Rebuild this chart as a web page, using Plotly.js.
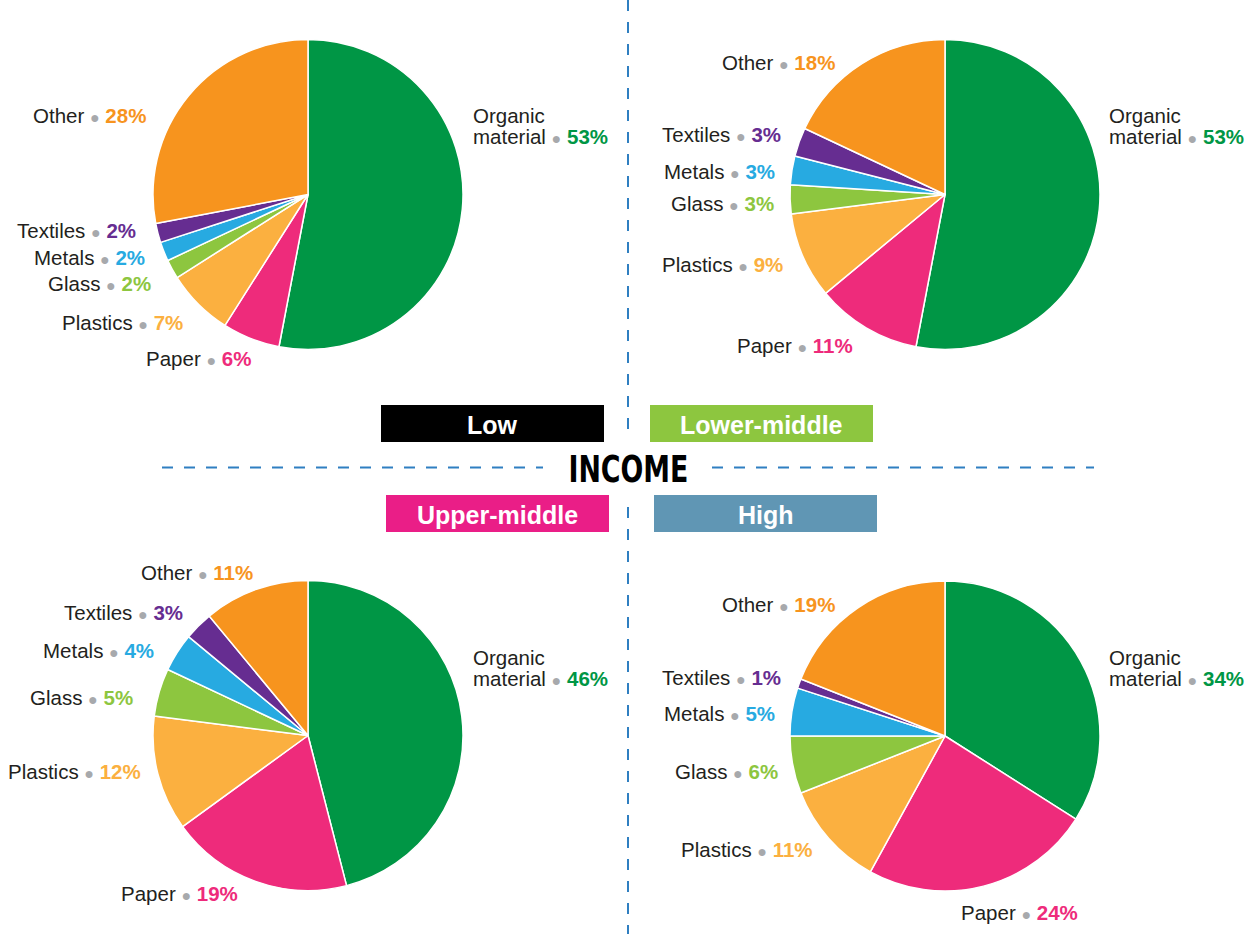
<!DOCTYPE html>
<html>
<head>
<meta charset="utf-8">
<script src="https://cdn.plot.ly/plotly-3.0.1.min.js"></script>
<style>html,body{margin:0;padding:0;background:#fff;}#chart{width:1250px;height:934px;}</style>
</head>
<body>
<div id="chart"></div>
<script>
// ---- data ----
const categories = ['Organic material', 'Paper', 'Plastics', 'Glass', 'Metals', 'Textiles', 'Other'];
const incomeGroups = ['Low', 'Lower-middle', 'Upper-middle', 'High'];
const lowValues = [53, 6, 7, 2, 2, 2, 28];
const lowerMiddleValues = [53, 11, 9, 3, 3, 3, 18];
const upperMiddleValues = [46, 19, 12, 5, 4, 3, 11];
const highValues = [34, 24, 11, 6, 5, 1, 19];
const centerTitle = 'INCOME';

// ---- styles / layout ----
const W = 1250, H = 934;
const sliceColors = ['#009645', '#EE2B7B', '#FBB040', '#8DC63F', '#27AAE1', '#662D91', '#F7941E'];
const groupColors = ['#000000', '#8DC63F', '#EA1E87', '#6096B4'];
const seriesList = [lowValues, lowerMiddleValues, upperMiddleValues, highValues];
const pieCenters = [[308, 194.5], [945, 194.5], [308, 735.5], [945, 736]];
const pieRadius = 155;
const boxRects = [[381, 405, 604, 442], [650, 405, 873, 442], [386, 495, 609, 532], [654, 495, 877, 532]];
// label anchors (px): organic -> left anchor of 2nd line; others -> right edge
const labelPos = [
  [[471, 136], [253, 358], [185, 323], [153, 283], [147, 257], [138, 231], [148, 115]],
  [[1107, 136], [855, 345], [785, 265], [776, 204], [777, 171], [783, 135], [837, 62]],
  [[471, 678], [240, 893], [143, 771], [135, 697], [156, 650], [185, 612], [255, 572]],
  [[1107, 678], [1080, 912], [815, 849], [780, 771], [777, 713], [783, 677], [837, 604]]
];

const px = x => x / W;
const py = y => 1 - y / H;
const FONT = '"Liberation Sans", Arimo, Arial, sans-serif';
const TEXTC = '#231F20';
const DOT = '<span style="color:#A7A9AC;font-size:16px">●</span>';
const LABEL_SIZE = 20.5;

const traces = seriesList.map((vals, i) => {
  const [cx, cy] = pieCenters[i];
  return {
    type: 'pie',
    labels: categories,
    values: vals,
    sort: false,
    direction: 'clockwise',
    rotation: 0,
    textinfo: 'none',
    hoverinfo: 'skip',
    showlegend: false,
    marker: {colors: sliceColors, line: {color: '#ffffff', width: 1.5}},
    domain: {x: [px(cx - pieRadius), px(cx + pieRadius)], y: [py(cy + pieRadius), py(cy - pieRadius)]}
  };
});

const annotations = [];
const shapes = [];

seriesList.forEach((vals, i) => {
  categories.forEach((cat, j) => {
    const [x, y] = labelPos[i][j];
    const pct = '<b style="color:' + sliceColors[j] + '">' + vals[j] + '%</b>';
    const font = {family: FONT, size: LABEL_SIZE, color: TEXTC};
    if (j === 0) {
      const words = cat.split(' ');
      annotations.push({xref: 'paper', yref: 'paper', x: px(x), y: py(y - 21), xanchor: 'left', yanchor: 'middle',
        text: words[0], showarrow: false, font: font});
      annotations.push({xref: 'paper', yref: 'paper', x: px(x), y: py(y), xanchor: 'left', yanchor: 'middle',
        text: words.slice(1).join(' ') + ' ' + DOT + ' ' + pct, showarrow: false, font: font});
    } else {
      annotations.push({xref: 'paper', yref: 'paper', x: px(x), y: py(y), xanchor: 'right', yanchor: 'middle',
        text: cat + ' ' + DOT + ' ' + pct, showarrow: false, font: font});
    }
  });
});

incomeGroups.forEach((g, i) => {
  const [x0, y0, x1, y1] = boxRects[i];
  shapes.push({type: 'rect', xref: 'paper', yref: 'paper', x0: px(x0), x1: px(x1), y0: py(y1), y1: py(y0),
    fillcolor: groupColors[i], line: {width: 0}, layer: 'above'});
  annotations.push({xref: 'paper', yref: 'paper', x: px((x0 + x1) / 2), y: py((y0 + y1) / 2 + 1), xanchor: 'center', yanchor: 'middle',
    text: g, showarrow: false, font: {family: FONT, size: 25, weight: 'bold', color: '#ffffff'}});
});

annotations.push({xref: 'paper', yref: 'paper', x: px(628), y: py(469), xanchor: 'center', yanchor: 'middle',
  text: centerTitle, showarrow: false,
  font: {family: '"Liberation Sans Narrow", "DejaVu Sans Condensed", "Liberation Sans", sans-serif', size: 38, weight: 'bold', color: '#000000'}});

const dashLine = {color: '#2F7FC1', width: 2, dash: '11px,11px'};
[[0, 430], [507, 934]].forEach(([a, b]) => shapes.push({type: 'line', xref: 'paper', yref: 'paper',
  x0: px(628), x1: px(628), y0: py(a), y1: py(b), line: dashLine}));
[[162, 543], [712, 1094]].forEach(([a, b]) => shapes.push({type: 'line', xref: 'paper', yref: 'paper',
  x0: px(a), x1: px(b), y0: py(467.5), y1: py(467.5), line: dashLine}));

const layout = {
  width: W, height: H,
  margin: {l: 0, r: 0, t: 0, b: 0},
  paper_bgcolor: '#ffffff', plot_bgcolor: '#ffffff',
  showlegend: false,
  annotations: annotations,
  shapes: shapes
};

Plotly.newPlot('chart', traces, layout, {displayModeBar: false, staticPlot: true}).then(gd => {
  // condense the central title to the reference's narrow width
  gd.querySelectorAll('text.annotation-text').forEach(t => {
    if (t.textContent === centerTitle) {
      t.setAttribute('textLength', '120');
      t.setAttribute('lengthAdjust', 'spacingAndGlyphs');
    }
  });
});
</script>
</body>
</html>
